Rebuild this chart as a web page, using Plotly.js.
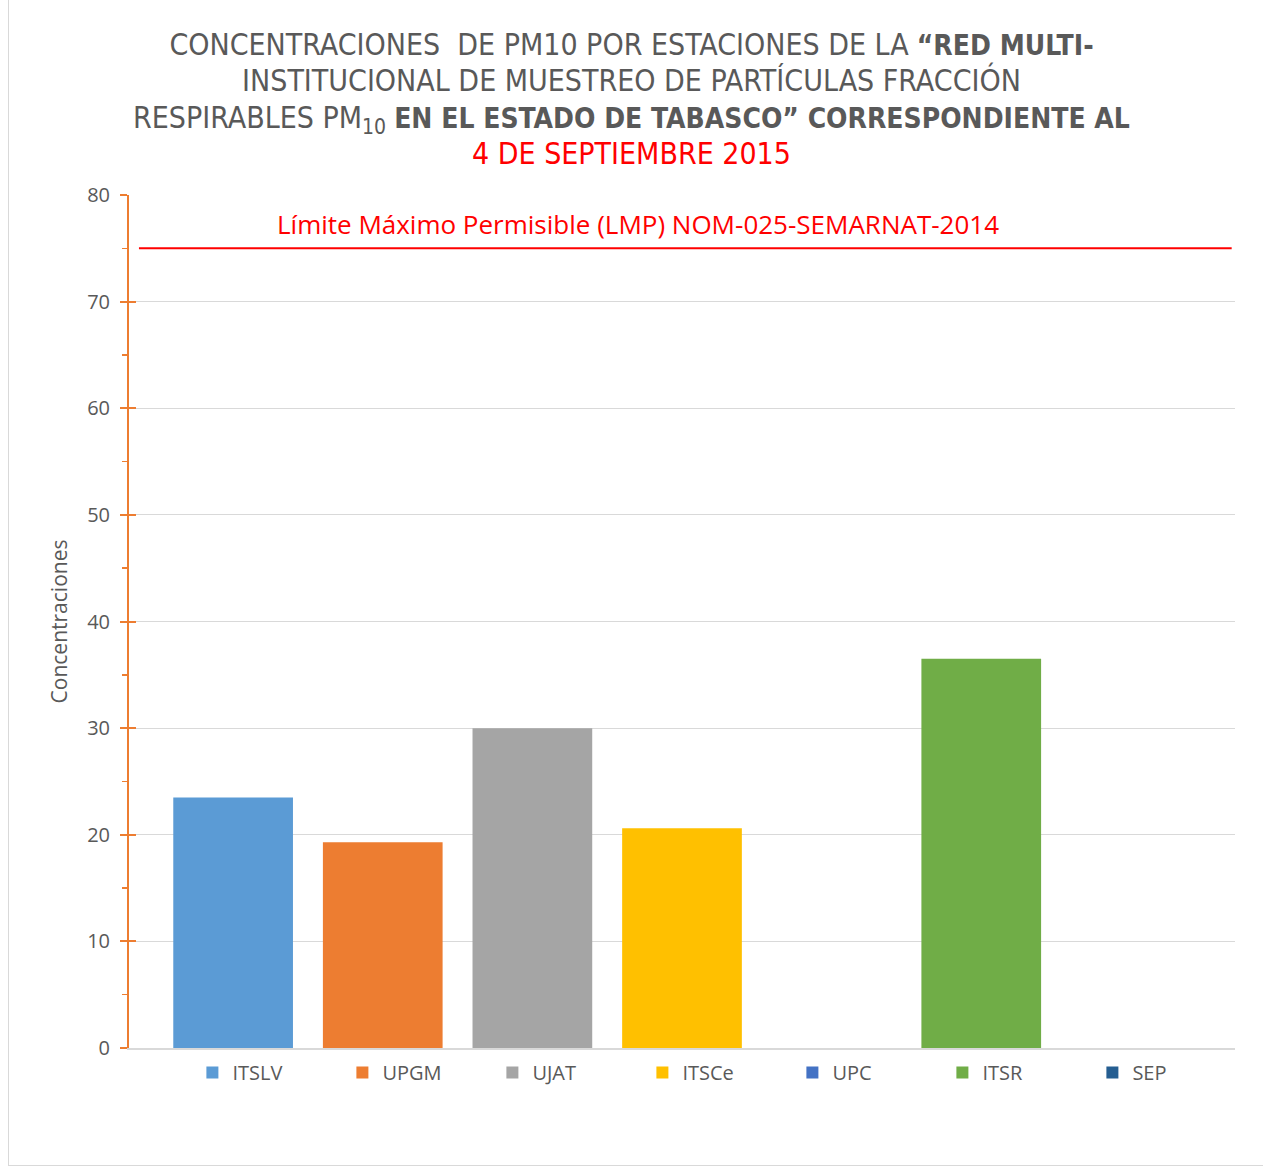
<!DOCTYPE html>
<html>
<head>
<meta charset="utf-8">
<script src="https://cdn.plot.ly/plotly-3.0.1.min.js"></script>
<style>
  html, body { margin:0; padding:0; background:#fff; }
  #wrap { position:relative; width:1263px; height:1171px; }
  #frame { position:absolute; left:8px; top:0; width:1300px; height:1165px; border-left:1px solid #d9d9d9; border-bottom:1px solid #d9d9d9; pointer-events:none; }
  #chart { position:absolute; left:0; top:0; width:1263px; height:1171px; }
</style>
</head>
<body>
<div id="wrap">
<div id="chart"></div>
<div id="frame"></div>
</div>
<script>
// ---- data ----
const stations = ["ITSLV", "UPGM", "UJAT", "ITSCe", "UPC", "ITSR", "SEP"];
const values = [23.5, 19.3, 30.0, 20.6, 0, 36.5, 0];
const colors = ["#5B9BD5", "#ED7D31", "#A5A5A5", "#FFC000", "#4472C4", "#70AD47", "#255E91"];
const category = ["4 sep 2015"];
const limitValue = 75;
const limitLabel = "Límite Máximo Permisible (LMP) NOM-025-SEMARNAT-2014";
const yTicks = [0, 10, 20, 30, 40, 50, 60, 70, 80];

const traces = stations.map((s, i) => ({
  type: "bar",
  name: s,
  x: category,
  y: [values[i]],
  marker: { color: colors[i] },
  hoverinfo: "name+y"
}));
// helper trace so the overlay axis (crossing major ticks) is drawn
traces.push({ type: "scatter", mode: "markers", x: category, y: [null], yaxis: "y2", showlegend: false, hoverinfo: "skip" });

const gray = "#595959";
const orange = "#ED7D31";
const R = (t) => "<span style='font-size:30px'>" + t + "</span>";

const layout = {
  width: 1263,
  height: 1171,
  paper_bgcolor: "#ffffff",
  plot_bgcolor: "#ffffff",
  margin: { l: 129, r: 28, t: 195, b: 123 },
  font: { family: "Open Sans, sans-serif", color: gray },
  title: {
    text: R("CONCENTRACIONES  DE PM10 POR ESTACIONES DE LA") + " <b>“RED MULTI-</b><br>" +
          R("INSTITUCIONAL DE MUESTREO DE PARTÍCULAS FRACCIÓN") + "<br>" +
          R("RESPIRABLES PM<sub>10</sub>") + " <b>EN EL ESTADO DE TABASCO” CORRESPONDIENTE AL</b><br>" +
          "<span style='color:#FF0000;font-size:30px'>4 DE SEPTIEMBRE 2015</span>",
    font: { family: "Liberation Sans Narrow, DejaVu Sans Condensed, sans-serif", size: 28, color: gray },
    x: 0.5, xanchor: "center", xref: "container",
    y: 1 - 55 / 1171, yanchor: "top", yref: "container"
  },
  barmode: "group",
  bargap: 0.053,
  bargroupgap: 0.2,
  showlegend: true,
  legend: {
    orientation: "h",
    x: 0.532, xanchor: "center",
    y: -0.006, yanchor: "top",
    entrywidth: 105,
    font: { size: 20, color: gray, family: "Open Sans, sans-serif" },
    traceorder: "normal"
  },
  xaxis: {
    type: "category",
    showticklabels: false,
    showgrid: false,
    showline: true,
    linecolor: "#d9d9d9",
    linewidth: 2,
    ticks: "",
    fixedrange: true
  },
  yaxis: {
    range: [0, 80],
    tickvals: yTicks,
    ticktext: yTicks.map(String),
    showgrid: true,
    gridcolor: "#d9d9d9",
    gridwidth: 1,
    zeroline: false,
    showline: true,
    linecolor: orange,
    linewidth: 2,
    ticks: "outside",
    ticklen: 7,
    tickwidth: 2,
    tickcolor: orange,
    minor: { dtick: 5, ticks: "outside", ticklen: 5, tickwidth: 1.5, tickcolor: orange, showgrid: false },
    tickfont: { size: 20, color: gray, family: "Open Sans, sans-serif" },
    ticklabelstandoff: 6,
    title: { text: "Concentraciones", font: { size: 21, color: gray, family: "Open Sans, sans-serif" }, standoff: 14 },
    fixedrange: true
  },
  yaxis2: {
    overlaying: "y",
    side: "left",
    anchor: "x",
    range: [0, 80],
    tickvals: yTicks,
    showticklabels: false,
    showgrid: false,
    zeroline: false,
    showline: false,
    ticks: "inside",
    ticklen: 7,
    tickwidth: 2,
    tickcolor: orange,
    fixedrange: true
  },
  shapes: [{
    type: "line",
    xref: "paper", yref: "y",
    x0: 0.009, x1: 0.997,
    y0: limitValue, y1: limitValue,
    line: { color: "#FF0000", width: 2 }
  }],
  annotations: [{
    xref: "paper", yref: "y",
    x: 0.46, y: limitValue,
    yanchor: "bottom", xanchor: "center",
    yshift: 4,
    text: limitLabel,
    showarrow: false,
    font: { size: 26, color: "#FF0000", family: "Open Sans, sans-serif" }
  }]
};

Plotly.newPlot("chart", traces, layout, { displayModeBar: false, staticPlot: true });
</script>
</body>
</html>
